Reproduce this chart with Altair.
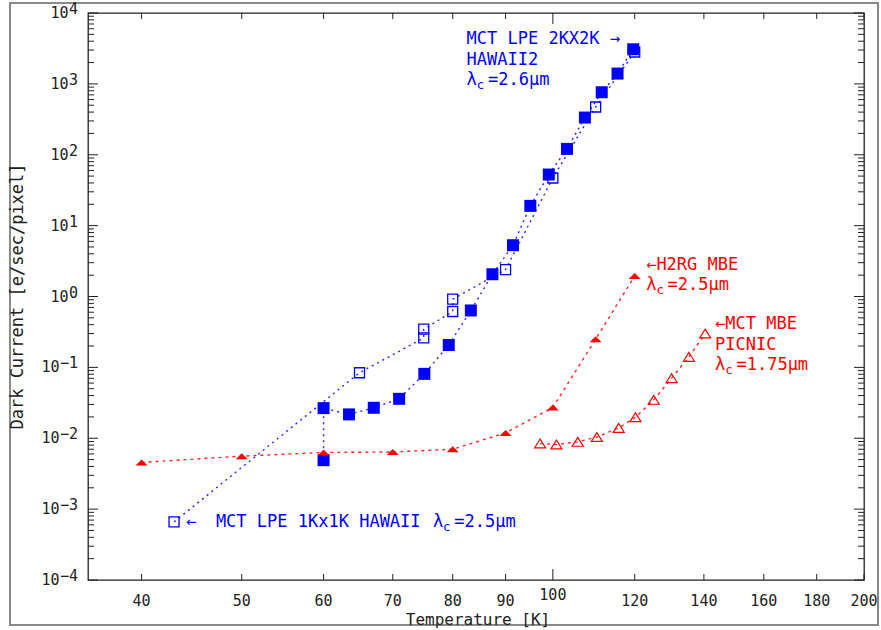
import altair as alt
import pandas as pd

# ---------------- data ----------------
# MCT LPE 1Kx1K HAWAII (open squares)
t_open = [43, 65, 75, 75, 80, 80, 90, 100, 110, 120]
i_open = [6.6e-4, 0.084, 0.26, 0.346, 0.614, 0.916, 2.4, 47, 472, 2818]

# MCT LPE 2Kx2K HAWAII2 (filled squares)
t_fill = [60, 60, 63.5, 67.1, 71, 75.1, 79.3, 83.3, 87.4, 91.5, 95.1, 99.1,
          103.2, 107.4, 111.5, 115.5, 119.6]
i_fill = [0.0049, 0.0266, 0.0217, 0.0269, 0.036, 0.081, 0.207, 0.635, 2.06,
          5.29, 19, 52.6, 121, 335, 762, 1397, 3076]

# H2RG MBE (filled triangles)
t_h2rg = [40, 50, 60, 70, 80, 90, 100, 110, 120]
i_h2rg = [0.00456, 0.00559, 0.0063, 0.0064, 0.0070, 0.0119, 0.0272, 0.25, 1.95]

# MCT MBE PICNIC (open triangles)
t_picnic = [97.2, 100.8, 105.7, 110.3, 115.8, 120.2, 125.2, 130.3, 135.4, 140.4]
i_picnic = [0.00845, 0.00818, 0.0089, 0.0104, 0.014, 0.0198, 0.0348, 0.0705,
            0.1406, 0.30]

# axis ticks / labels
x_tick_values = [40, 50, 60, 70, 80, 90, 120, 140, 160, 180, 200]
x_tick_major = [100]
x_label_values = [40, 50, 60, 70, 80, 90, 120, 140, 160, 180, 200]
x_label_raised = [100]
y_exponents = [-4, -3, -2, -1, 0, 1, 2, 3, 4]
y_minor_mult = [2, 3, 4, 5, 6, 7, 8, 9]

# annotation anchors (temperature, current)
ann_top = (82.5, 4256)
ann_1k = (44.15, 6.6e-4)
ann_h2rg = (123.1, 2.76)
ann_picnic = (143.5, 0.4068)

BLUE = "#0000ff"
RED = "#ff0000"
INK = "#222222"
FONT = "DejaVu Sans Mono"
W, H = 776, 567
AFS = 17
CW = AFS * 0.602  # monospace advance for annotation font

xs = alt.Scale(type="log", domain=[35.5, 200], nice=False)
ys = alt.Scale(type="log", domain=[1e-4, 1e4], nice=False)


def series_df(t, i):
    return pd.DataFrame({"T": t, "I": i, "idx": list(range(len(t)))})


def X():
    return alt.X("T:Q", scale=xs, axis=None)


def Y():
    return alt.Y("I:Q", scale=ys, axis=None)


layers = []

# ---------- outer frame ----------
layers.append(
    alt.Chart(pd.DataFrame({"a": [0]})).mark_rect(
        fillOpacity=0, stroke="#8a8a8a", strokeWidth=2
    ).encode(x=alt.value(-78), x2=alt.value(790), y=alt.value(-10), y2=alt.value(612))
)

# ---------- ticks ----------
y_major = [10.0 ** e for e in y_exponents]
y_minor = [m * 10.0 ** e for e in y_exponents[:-1] for m in y_minor_mult]
dmaj = pd.DataFrame({"I": y_major})
dmin = pd.DataFrame({"I": y_minor})
for d, ln in ((dmaj, 10), (dmin, 6)):
    layers.append(alt.Chart(d).mark_rule(color=INK, strokeWidth=1).encode(
        y=Y(), x=alt.value(0), x2=alt.value(ln)))
    layers.append(alt.Chart(d).mark_rule(color=INK, strokeWidth=1).encode(
        y=Y(), x=alt.value(W), x2=alt.value(W - ln)))
dxt = pd.DataFrame({"T": x_tick_values})
dxm = pd.DataFrame({"T": x_tick_major})
for d, ln in ((dxt, 6), (dxm, 11)):
    layers.append(alt.Chart(d).mark_rule(color=INK, strokeWidth=1).encode(
        x=X(), y=alt.value(H), y2=alt.value(H - ln)))
    layers.append(alt.Chart(d).mark_rule(color=INK, strokeWidth=1).encode(
        x=X(), y=alt.value(0), y2=alt.value(ln)))

# ---------- axis labels ----------
ylab = pd.DataFrame({
    "I": y_major,
    "exp": [str(e) if e >= 0 else "\u2212" + str(abs(e)) for e in y_exponents],
    "neg": [e < 0 for e in y_exponents],
})
ylab["base"] = "10"
pos_lab = ylab[~ylab["neg"]]
neg_lab = ylab[ylab["neg"]]
layers.append(alt.Chart(pos_lab).mark_text(
    font=FONT, fontSize=15, align="right", baseline="middle", color=INK, dx=-9.5
).encode(y=Y(), x=alt.value(-10), text="base:N"))
layers.append(alt.Chart(neg_lab).mark_text(
    font=FONT, fontSize=15, align="right", baseline="middle", color=INK, dx=-18.5
).encode(y=Y(), x=alt.value(-10), text="base:N"))
layers.append(alt.Chart(ylab).mark_text(
    font=FONT, fontSize=15, align="right", baseline="middle", color=INK, dy=-4
).encode(y=Y(), x=alt.value(-10), text="exp:N"))

xl = pd.DataFrame({"T": x_label_values, "lab": [str(v) for v in x_label_values]})
xr = pd.DataFrame({"T": x_label_raised, "lab": [str(v) for v in x_label_raised]})
layers.append(alt.Chart(xl).mark_text(
    font=FONT, fontSize=15, align="center", baseline="middle", color=INK
).encode(x=X(), y=alt.value(H + 20.5), text="lab:N"))
layers.append(alt.Chart(xr).mark_text(
    font=FONT, fontSize=15, align="center", baseline="middle", color=INK
).encode(x=X(), y=alt.value(H + 15), text="lab:N"))

# axis titles
layers.append(alt.Chart(pd.DataFrame({"t": ["Temperature [K]"]})).mark_text(
    font=FONT, fontSize=16, align="center", baseline="middle", color=INK
).encode(x=alt.value(W / 2 + 2), y=alt.value(H + 39.5), text="t:N"))
layers.append(alt.Chart(pd.DataFrame({"t": ["Dark Current [e/sec/pixel]"]})).mark_text(
    font=FONT, fontSize=17, align="center", baseline="middle", color=INK, angle=270
).encode(x=alt.value(-70), y=alt.value(H / 2), text="t:N"))

# ---------- series ----------
d_open = series_df(t_open, i_open)
d_fill = series_df(t_fill, i_fill)
d_h2 = series_df(t_h2rg, i_h2rg)
d_pic = series_df(t_picnic, i_picnic)

for d, c, dash in ((d_open, BLUE, [2, 4]), (d_fill, BLUE, [2, 4]),
                   (d_h2, RED, [3, 4]), (d_pic, RED, [3, 4])):
    layers.append(alt.Chart(d).mark_line(
        color=c, strokeDash=dash, strokeWidth=1.4, opacity=0.85
    ).encode(x=X(), y=Y(), order="idx:Q"))

TRI_FLAT = "M0,-0.5L1,0.5L-1,0.5Z"
TRI_OPEN = "M0,-0.8L1,0.8L-1,0.8Z"

layers.append(alt.Chart(d_open).mark_point(
    shape="square", filled=False, size=100, strokeWidth=1.3, color=BLUE, opacity=1
).encode(x=X(), y=Y()))
layers.append(alt.Chart(d_fill).mark_point(
    shape="square", filled=True, size=144, color=BLUE, opacity=1
).encode(x=X(), y=Y()))
layers.append(alt.Chart(d_h2).mark_point(
    shape=TRI_FLAT, filled=True, size=144, color=RED, opacity=1
).encode(x=X(), y=Y()))
layers.append(alt.Chart(d_pic).mark_point(
    shape=TRI_OPEN, filled=False, size=121, strokeWidth=1.2, color=RED, opacity=1
).encode(x=X(), y=Y()))


# ---------- annotations ----------
def text_line(anchor, s, color, dy=0, dx=0, size=AFS):
    d = pd.DataFrame({"T": [anchor[0]], "I": [anchor[1]], "s": [s]})
    return alt.Chart(d).mark_text(
        font=FONT, fontSize=size, align="left", baseline="middle",
        color=color, dx=dx, dy=dy
    ).encode(x=X(), y=Y(), text="s:N")


def lam_line(anchor, rest, color, dy=0, dx=0):
    return [
        text_line(anchor, "\u03bb", color, dy=dy, dx=dx),
        text_line(anchor, "c", color, dy=dy + 5, dx=dx + CW, size=12.5),
        text_line(anchor, rest, color, dy=dy, dx=dx + 2 * CW + 1),
    ]


layers.append(text_line(ann_top, "MCT LPE 2KX2K \u2192", BLUE))
layers.append(text_line(ann_top, "HAWAII2", BLUE, dy=20.5))
layers += lam_line(ann_top, "=2.6\u03bcm", BLUE, dy=41)

layers.append(text_line(ann_1k, "\u2190", BLUE))
layers.append(text_line(ann_1k, "MCT LPE 1Kx1K HAWAII", BLUE, dx=30))
layers += lam_line(ann_1k, "=2.5\u03bcm", BLUE, dx=247)

layers.append(text_line(ann_h2rg, "\u2190H2RG MBE", RED))
layers += lam_line(ann_h2rg, "=2.5\u03bcm", RED, dy=20)

layers.append(text_line(ann_picnic, "\u2190MCT MBE", RED))
layers.append(text_line(ann_picnic, "PICNIC", RED, dy=20.5))
layers += lam_line(ann_picnic, "=1.75\u03bcm", RED, dy=41)

chart = alt.layer(*layers).properties(
    width=W, height=H,
    autosize=alt.AutoSizeParams(type="none"),
    padding={"left": 88, "top": 13, "right": 17, "bottom": 50},
    background="white",
).configure_view(stroke=INK, strokeWidth=1.3)

chart.save("out.html", embed_options={"renderer": "svg", "actions": False})
